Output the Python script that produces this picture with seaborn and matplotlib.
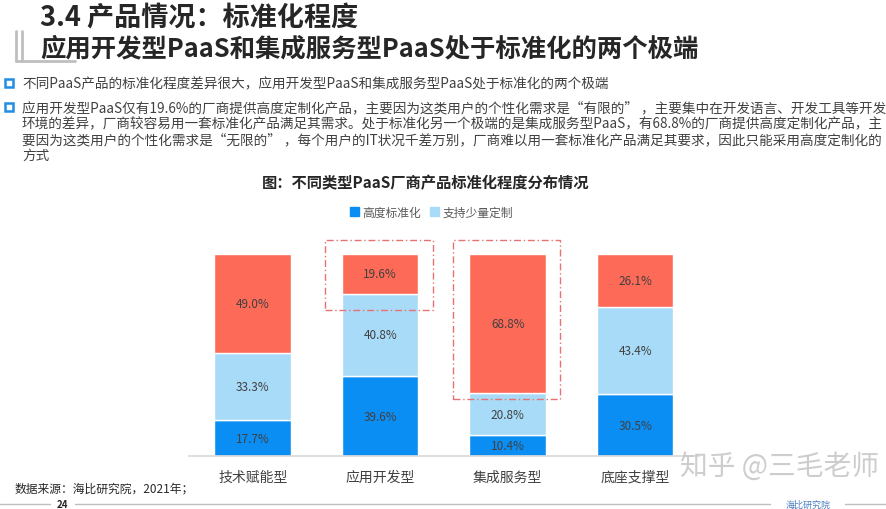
import numpy as np
import pandas as pd
import matplotlib.pyplot as plt
import seaborn as sns
from matplotlib.patches import Patch, Rectangle
from matplotlib.lines import Line2D

# chart data
categories = ['技术赋能型', '应用开发型', '集成服务型', '底座支撑型']
high_std = [17.7, 39.6, 10.4, 30.5]      # 高度标准化
some_custom = [33.3, 40.8, 20.8, 43.4]   # 支持少量定制
high_custom = [49.0, 19.6, 68.8, 26.1]   # 高度定制化
legend_labels = ['高度标准化', '支持少量定制']

title1 = '3.4 产品情况：标准化程度'
title2 = '应用开发型PaaS和集成服务型PaaS处于标准化的两个极端'
bullet1 = ['不同PaaS产品的标准化程度差异很大，应用开发型PaaS和集成服务型PaaS处于标准化的两个极端']
bullet2 = ['应用开发型PaaS仅有19.6%的厂商提供高度定制化产品，主要因为这类用户的个性化需求是“有限的” ，主要集中在开发语言、开发工具等开发',
           '环境的差异，厂商较容易用一套标准化产品满足其需求。处于标准化另一个极端的是集成服务型PaaS，有68.8%的厂商提供高度定制化产品，主',
           '要因为这类用户的个性化需求是“无限的” ，每个用户的IT状况千差万别，厂商难以用一套标准化产品满足其要求，因此只能采用高度定制化的',
           '方式']
chart_title = '图：不同类型PaaS厂商产品标准化程度分布情况'
source = '数据来源：海比研究院，2021年；'

sns.set_theme(style='white')
plt.rcParams['font.family'] = ['Noto Sans CJK SC', 'DejaVu Sans']

c_blue = '#0B8EF3'
c_light = '#A8DBF8'
c_red = '#FD6A58'
c_text = '#404040'

ds = pd.DataFrame({'cat': categories, 'a': high_std, 'b': some_custom, 'c': high_custom})

fig = plt.figure(figsize=(8.86, 5.10), dpi=100)
ax = fig.add_axes([0.2133, 0.1039, 0.5756, 0.396])

sns.barplot(data=ds, x='cat', y='a', color=c_blue, width=0.6, saturation=1, ax=ax)
sns.barplot(data=ds, x='cat', y='b', bottom=ds['a'], color=c_light, width=0.6, saturation=1, ax=ax)
sns.barplot(data=ds, x='cat', y='c', bottom=ds['a'] + ds['b'], color=c_red, width=0.6, saturation=1, ax=ax)

# segment labels
for i in range(len(categories)):
    base = 0
    for col in ['a', 'b', 'c']:
        v = ds[col][i]
        ax.text(i, base + v / 2, f'{v:.1f}%', ha='center', va='center', fontsize=8.5, color=c_text)
        base += v

ax.set_ylim(0, 100)
ax.set_xlim(-0.5, 3.5)
ax.set_xlabel('')
ax.set_ylabel('')
ax.set_yticks([])
for s in ['top', 'right', 'left']:
    ax.spines[s].set_visible(False)
ax.spines['bottom'].set_color('#D9D9D9')
ax.tick_params(axis='x', length=0, pad=10, labelsize=10, labelcolor=c_text)

# dash-dot highlight boxes around the two extremes
box_kw = dict(fill=False, edgecolor='#E57373', linestyle=(0, (5, 2, 1, 2)), linewidth=1.0, clip_on=False)
top2 = ds['a'][1] + ds['b'][1]
ax.add_patch(Rectangle((0.57, top2 - 8), 0.84, 107 - (top2 - 8), **box_kw))
top3 = ds['a'][2] + ds['b'][2]
ax.add_patch(Rectangle((1.57, top3 - 3), 0.84, 107 - (top3 - 3), **box_kw))

handles = [Patch(color=c_blue), Patch(color=c_light)]
fig.legend(handles, legend_labels, loc='center', bbox_to_anchor=(0.487, 0.582), ncol=2,
           frameon=False, fontsize=8.5, handlelength=0.7, handleheight=0.7,
           handletextpad=0.3, columnspacing=0.8, labelcolor='#595959')

fig.text(0.48, 1 - 183 / 510, chart_title, ha='center', va='center', fontsize=11,
         fontweight='bold', color='#262626')

# slide header
fig.text(40 / 886, 1 - 18 / 510, title1, ha='left', va='center', fontsize=19.5, fontweight='bold', color='#262626')
fig.text(40 / 886, 1 - 49 / 510, title2, ha='left', va='center', fontsize=18.3, fontweight='bold', color='#262626')
fig.add_artist(Line2D([16 / 886, 16 / 886], [1 - 32 / 510, 1 - 62 / 510], color='#BFBFBF', lw=2))
fig.add_artist(Line2D([22 / 886, 22 / 886], [1 - 32 / 510, 1 - 62 / 510], color='#BFBFBF', lw=2))
fig.add_artist(Line2D([16 / 886, 75 / 886], [1 - 62 / 510, 1 - 62 / 510], color='#BFBFBF', lw=2))

# bullets
def bullet(y):
    fig.add_artist(Rectangle((5 / 886, 1 - (y + 4) / 510), 8 / 886, 8 / 510, fill=False,
                             edgecolor='#1F8FE5', lw=1.8, transform=fig.transFigure))

bullet(84)
fig.text(22 / 886, 1 - 84 / 510, bullet1[0], ha='left', va='center', fontsize=9.8, color='#404040')
bullet(108)
for k, line in enumerate(bullet2):
    fig.text(22 / 886, 1 - (108 + 16 * k) / 510, line, ha='left', va='center', fontsize=9.8, color='#404040')

# footer
fig.text(15 / 886, 1 - 489 / 510, source, ha='left', va='center', fontsize=8.5, color='#262626')
fig.text(62 / 886, 1 - 505 / 510, '24', ha='center', va='center', fontsize=7, fontweight='bold', color='#262626')
fig.add_artist(Line2D([0, 50 / 886], [1 - 505 / 510] * 2, color='#BFBFBF', lw=1))
fig.add_artist(Line2D([75 / 886, 770 / 886], [1 - 505 / 510] * 2, color='#BFBFBF', lw=1))
fig.add_artist(Line2D([845 / 886, 1], [1 - 505 / 510] * 2, color='#BFBFBF', lw=1))
fig.text(808 / 886, 1 - 505 / 510, '海比研究院', ha='center', va='center', fontsize=6.5, color='#4A7FC1')
fig.text(780 / 886, 1 - 467 / 510, '知乎 @三毛老师', ha='center', va='center', fontsize=20,
         color='#C8C8C8', alpha=0.9)

fig.savefig('out.png', dpi=100)
